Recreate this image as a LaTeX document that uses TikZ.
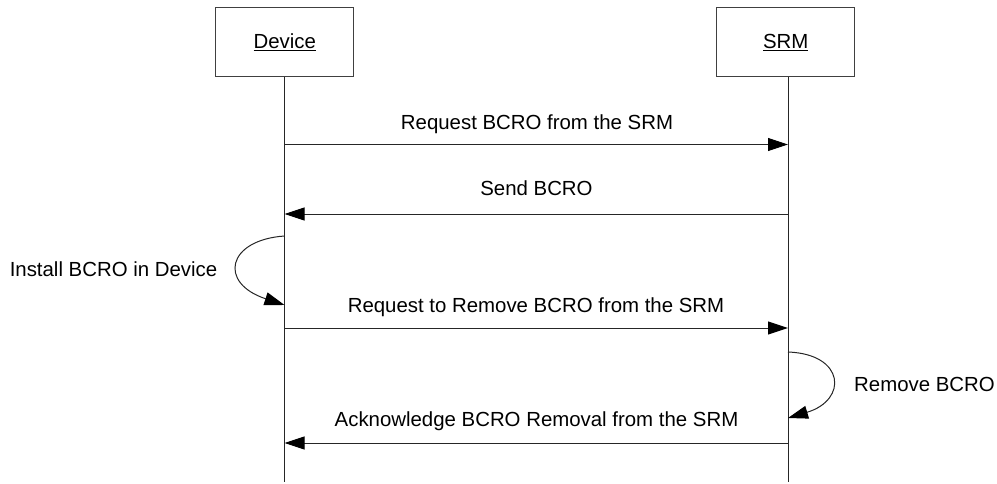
\documentclass[tikz,border=0pt]{standalone}
\usepackage{fontspec}
\setmainfont{Liberation Sans}
\usetikzlibrary{arrows.meta}
\begin{document}
\begin{tikzpicture}[x=1pt,y=-1pt,
  lbl/.style={font=\fontsize{20.4}{24}\selectfont, inner sep=0pt, anchor=base},
  actor/.style={draw=black!75, line width=1pt, minimum width=138pt, minimum height=69pt,
    inner sep=0pt, text height=14.6pt, text depth=0pt, font=\fontsize{20.4}{24}\selectfont},
  life/.style={line width=1pt, draw=black!85},
  msg/.style={line width=1pt, draw=black!85, -{Triangle[length=20pt,width=13pt,color=black]}}]
\useasboundingbox (0,0) rectangle (997,483);
% actors
\node[actor] (dev) at (284.7,41.5) {\underline{Device}};
\node[actor] (srm) at (785.7,41.5) {\underline{SRM}};
% lifelines
\coordinate (devend) at (284.5,482);
\coordinate (srmend) at (788,482);
\draw[life] (dev.south -| devend) -- (devend);
\draw[life] (srm.south -| srmend) -- (srmend);
% message points
\coordinate (d1) at (284.5,144.5); \coordinate (s1) at (788,144.5);
\coordinate (d2) at (284.5,214);   \coordinate (s2) at (788,214);
\coordinate (d3a) at (284.5,236);  \coordinate (d3b) at (284.5,305);
\coordinate (d4) at (284.5,328);   \coordinate (s4) at (788,328);
\coordinate (s5a) at (788,352);    \coordinate (s5b) at (788,418);
\coordinate (d6) at (284.5,443);   \coordinate (s6) at (788,443);
% messages
\draw[msg] (d1) -- (s1);
\node[lbl] (t1) at (537,129.3) {Request BCRO from the SRM};
\draw[msg] (s2) -- (d2);
\node[lbl] (t2) at (536.5,195) {Send BCRO};
\draw[msg] (d3a) .. controls (227,240) and (218,283) .. (d3b);
\node[lbl] (t3) at (113.5,276) {Install BCRO in Device};
\draw[msg] (d4) -- (s4);
\node[lbl] (t4) at (536,312) {Request to Remove BCRO from the SRM};
\draw[msg] (s5a) .. controls (845,354) and (848,400) .. (s5b);
\node[lbl] (t5) at (924.5,391) {Remove BCRO};
\draw[msg] (s6) -- (d6);
\node[lbl] (t6) at (536.5,426) {Acknowledge BCRO Removal from the SRM};
\end{tikzpicture}
\end{document}
